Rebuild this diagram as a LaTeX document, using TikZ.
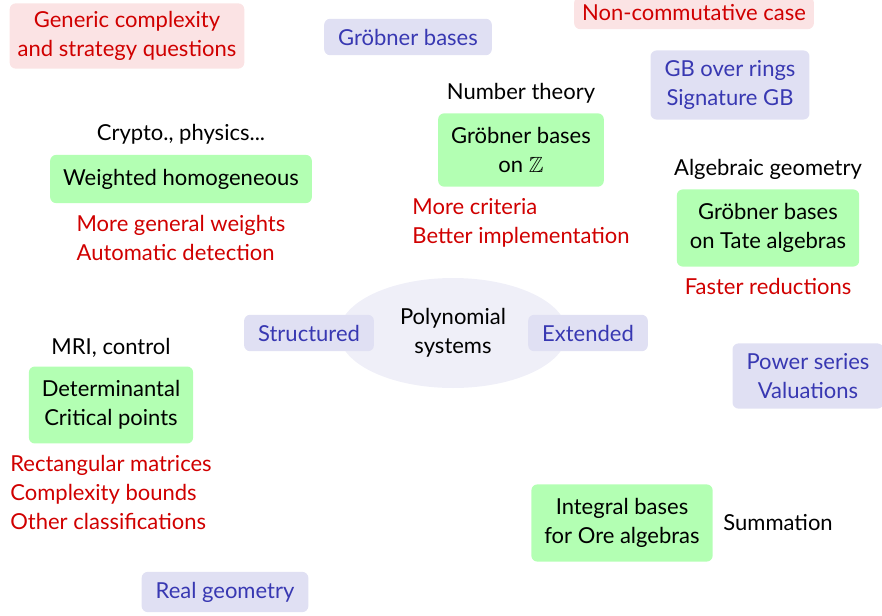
\documentclass[tikz,border=0pt]{standalone}
\usepackage{fontspec}
\setmainfont{Lato}
\usepackage{amssymb}
\usetikzlibrary{shapes.geometric, positioning}

\definecolor{gbgreen}{RGB}{179,255,179}
\definecolor{topicfill}{RGB}{224,224,243}
\definecolor{topictext}{RGB}{56,56,178}
\definecolor{openfill}{RGB}{251,227,228}
\definecolor{opentext}{RGB}{208,0,0}
\definecolor{corefill}{RGB}{239,239,248}

\begin{document}
\begin{tikzpicture}[
        x=0.5pt, y=-0.5pt,
        every node/.style={font=\fontsize{11}{14.5}\selectfont},
        work/.style={rectangle, fill=gbgreen, rounded corners=3pt, align=center, inner xsep=6.5pt, inner ysep=7pt},
        topic/.style={rectangle, fill=topicfill, text=topictext, rounded corners=3pt, align=center, inner xsep=7pt, inner ysep=5pt},
        open/.style={rectangle, fill=openfill, text=opentext, rounded corners=3pt, align=center, inner xsep=4pt, inner ysep=4pt},
        todo/.style={text=opentext, align=left, inner sep=3pt},
        field/.style={inner sep=3pt}
    ]
        \useasboundingbox (0, 0) rectangle (882, 615);
        % centre
        \node[ellipse, fill=corefill, minimum width=114pt, minimum height=55pt, align=center] (core) at (453, 333) {Polynomial\\systems};
        \node[topic] (struct) at (309, 333) {Structured};
        \node[topic] (ext) at (588, 333) {Extended};
        % topics
        \node[topic] (gb) at (408, 37) {Gröbner bases};
        \node[topic] (rings) at (730, 85) {GB over rings\\Signature GB};
        \node[topic] (series) at (808, 376) {Power series\\Valuations};
        \node[topic] (real) at (225, 592) {Real geometry};
        \node[open] (generic) at (127, 36) {Generic complexity\\and strategy questions};
        \node[open] (noncomm) at (694, 13) {Non-commutative case};
        % works
        \node[work] (weighted) at (181, 179) {Weighted homogeneous};
        \node[field, above=2pt of weighted] (crypto) {Crypto., physics...};
        \node[todo, below=2.5pt of weighted] (weightednext) {More general weights\\Automatic detection};
        \node[work] (gbz) at (521, 150) {Gröbner bases\\on $\mathbb{Z}$};
        \node[field, above=1.5pt of gbz] (numth) {Number theory};
        \node[todo, below=2.5pt of gbz] (gbznext) {More criteria\\Better implementation};
        \node[work] (tate) at (768, 228) {Gröbner bases\\on Tate algebras};
        \node[field, above=1.5pt of tate] (alggeo) {Algebraic geometry};
        \node[todo, below=2.5pt of tate] (tatenext) {Faster reductions};
        \node[work] (det) at (111, 405) {Determinantal\\Critical points};
        \node[field, above=1pt of det] (mri) {MRI, control};
        \node[todo, below=2.5pt of det] (detnext) {Rectangular matrices\\Complexity bounds\\Other classifications};
        \node[work] (ore) at (622, 523) {Integral bases\\for Ore algebras};
        \node[field, right=2pt of ore] (summ) {Summation};
    \end{tikzpicture}
\end{document}
